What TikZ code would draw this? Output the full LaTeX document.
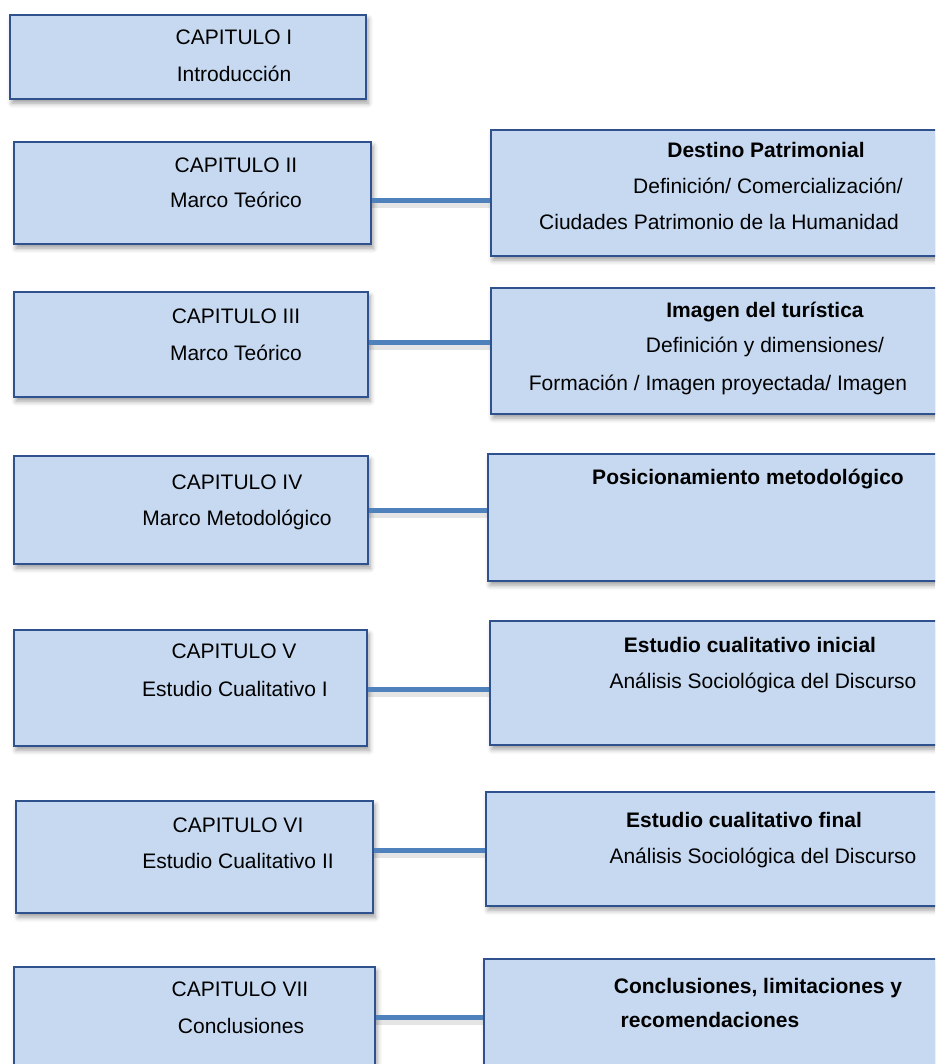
\documentclass[tikz,border=0pt]{standalone}
\usepackage{fontspec}
\setmainfont{Liberation Sans}
\usetikzlibrary{shadows.blur}

\definecolor{boxfill}{HTML}{C6D9F1}
\definecolor{boxline}{HTML}{2F528F}
\definecolor{connline}{HTML}{4F81BD}

\tikzset{
  chapbox/.style={draw=boxline, line width=2.2pt, fill=boxfill, rectangle,
    inner sep=0pt, anchor=north west,
    blur shadow={shadow xshift=2pt, shadow yshift=-4pt,
                 shadow blur radius=5pt, shadow opacity=40}},
  txt/.style={anchor=base, inner sep=0pt, font=\fontsize{21}{25}\selectfont},
  btxt/.style={txt, font=\fontsize{21}{25}\selectfont\bfseries},
  conn/.style={draw=connline, line width=5pt,
    preaction={draw=black, draw opacity=0.10, line width=8pt,
               transform canvas={yshift=-4pt}}}
}

\begin{document}
\begin{tikzpicture}[x=1pt, y=-1pt]
\useasboundingbox (0,0) rectangle (935,1064);
\clip (0,0) rectangle (935,1064);

% chapter boxes on the left
\node[chapbox, minimum width=356pt, minimum height=84pt]  (b1) at (9,14)  {};
\node[chapbox, minimum width=357pt, minimum height=102pt] (b2) at (13,141) {};
\node[chapbox, minimum width=354pt, minimum height=105pt] (b3) at (13,291) {};
\node[chapbox, minimum width=354pt, minimum height=108pt] (b4) at (13,455) {};
\node[chapbox, minimum width=353pt, minimum height=116pt] (b5) at (13,629) {};
\node[chapbox, minimum width=357pt, minimum height=112pt] (b6) at (15,800) {};
\node[chapbox, minimum width=361pt, minimum height=104pt] (b7) at (13,966) {};

% content boxes on the right
\node[chapbox, minimum width=460pt, minimum height=126pt] (r2) at (490,129) {};
\node[chapbox, minimum width=460pt, minimum height=126pt] (r3) at (490,287) {};
\node[chapbox, minimum width=463pt, minimum height=127pt] (r4) at (487,453) {};
\node[chapbox, minimum width=461pt, minimum height=124pt] (r5) at (489,620) {};
\node[chapbox, minimum width=465pt, minimum height=114pt] (r6) at (485,791) {};
\node[chapbox, minimum width=467pt, minimum height=112pt] (r7) at (483,958) {};

% horizontal connectors between each chapter and its content
\draw[conn] ([yshift=-7pt]b2.east)    -- ([yshift=-7pt]r2.west);
\draw[conn] ([yshift=2.5pt]b3.east)   -- ([yshift=9pt]r3.west);
\draw[conn] (b4.east)                 -- ([yshift=7.5pt]r4.west);
\draw[conn] ([yshift=-1pt]b5.east)    -- ([yshift=-6pt]r5.west);
\draw[conn] ([yshift=7pt]b6.east)     -- ([yshift=-1pt]r6.west);
\draw[conn] ([yshift=2pt]b7.east)     -- ([yshift=-2pt]r7.west);

% chapter titles
\node[txt] (t1a) at (234,45)  {CAPITULO I};
\node[txt] (t1b) at (234,82)  {Introducción};
\node[txt] (t2a) at (236,173) {CAPITULO II};
\node[txt] (t2b) at (236,208) {Marco Teórico};
\node[txt] (t3a) at (236,323) {CAPITULO III};
\node[txt] (t3b) at (236,360) {Marco Teórico};
\node[txt] (t4a) at (237,489) {CAPITULO IV};
\node[txt] (t4b) at (237,525) {Marco Metodológico};
\node[txt] (t5a) at (234,658) {CAPITULO V};
\node[txt] (t5b) at (235,696) {Estudio Cualitativo I};
\node[txt] (t6a) at (238,832) {CAPITULO VI};
\node[txt] (t6b) at (238,868) {Estudio Cualitativo II};
\node[txt] (t7a) at (240,996) {CAPITULO VII};
\node[txt] (t7b) at (241,1033) {Conclusiones};

% contents
\node[btxt] (s2a) at (766,158) {Destino Patrimonial};
\node[txt]  (s2b) at (768,194) {Definición/ Comercialización/};
\node[txt]  (s2c) at (719,230) {Ciudades Patrimonio de la Humanidad};
\node[btxt] (s3a) at (765,317) {Imagen del turística};
\node[txt]  (s3b) at (765,352) {Definición y dimensiones/};
\node[txt]  (s3c) at (718,390) {Formación / Imagen proyectada/ Imagen};
\node[btxt] (s4a) at (748,484) {Posicionamiento metodológico};
\node[btxt] (s5a) at (750,652) {Estudio cualitativo inicial};
\node[txt]  (s5b) at (763,688) {Análisis Sociológica del Discurso};
\node[btxt] (s6a) at (744,827) {Estudio cualitativo final};
\node[txt]  (s6b) at (763,863) {Análisis Sociológica del Discurso};
\node[btxt] (s7a) at (758,993) {Conclusiones, limitaciones y};
\node[btxt] (s7b) at (710,1027) {recomendaciones};
\end{tikzpicture}
\end{document}
